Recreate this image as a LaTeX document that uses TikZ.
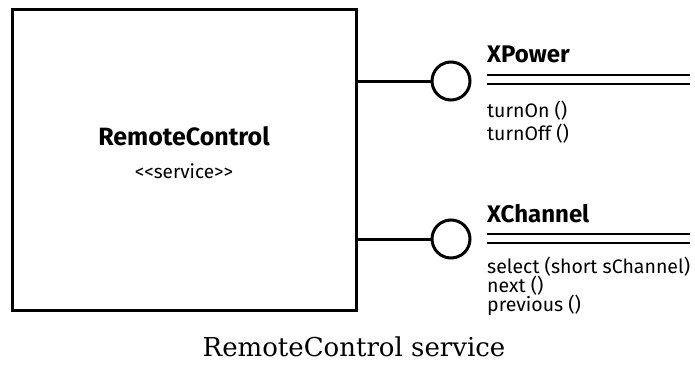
\documentclass[tikz,border=0pt]{standalone}
\usepackage{fontspec}
\setmainfont{DejaVu Serif}
\newfontfamily\umlfont{Fira Sans}
\usetikzlibrary{calc}

\tikzset{
	comp/.style = {draw, line width=3pt, minimum width=344pt, minimum height=301pt, inner sep=0pt},
	lolli/.style = {draw, circle, line width=3pt, minimum size=38pt, inner sep=0pt},
	iname/.style = {anchor=base west, inner sep=0pt, font=\umlfont\bfseries\fontsize{24}{24}\selectfont},
	op/.style = {anchor=base west, inner sep=0pt, font=\umlfont\fontsize{19.5}{19.5}\selectfont},
	wire/.style = {line width=3pt},
	sep/.style = {line width=2pt}
}

\begin{document}
\begin{tikzpicture}[x=1pt, y=-1pt]
		\useasboundingbox (0,0) rectangle (695,364);
		\node[comp] (rc) at (184,159.5) {};
		\node[anchor=base, inner sep=0pt, font=\umlfont\bfseries\fontsize{25}{25}\selectfont] (rcname) at (184,145) {RemoteControl};
		\node[anchor=base, inner sep=0pt, font=\umlfont\fontsize{19}{19}\selectfont] (rcst) at (184,178) {<<service>>};
		\node[lolli] (pw) at (451,81) {};
		\node[lolli] (ch) at (451,239) {};
		\path (rc.east |- pw) edge[wire] (pw.west)
			(rc.east |- ch) edge[wire] (ch.west);
		% XPower
		\node[iname] (pwname) at (487,62) {XPower};
		\coordinate (pwa) at (487,75);
		\coordinate (pwb) at (487,84);
		\draw[sep] (pwa) -- ++(203,0) (pwb) -- ++(203,0);
		\node[op] (on) at (487,117) {turnOn ()};
		\node[op] (off) at (487,140) {turnOff ()};
		% XChannel
		\node[iname] (chname) at (487,222) {XChannel};
		\coordinate (cha) at (487,234);
		\coordinate (chb) at (487,243);
		\draw[sep] (cha) -- ++(203,0) (chb) -- ++(203,0);
		\node[op] (sel) at (487,273) {select (short sChannel)};
		\node[op] (nxt) at (487,292) {next ()};
		\node[op] (prv) at (487,311) {previous ()};
		% caption
		\node[anchor=base, inner sep=0pt, font=\fontsize{26}{26}\selectfont] (cap) at (354,356) {RemoteControl service};
	\end{tikzpicture}
\end{document}
